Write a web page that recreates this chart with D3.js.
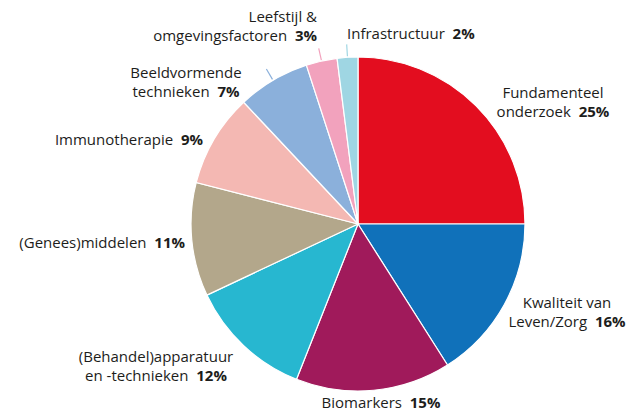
<!DOCTYPE html>
<html>
<head>
<meta charset="utf-8">
<script src="https://cdn.jsdelivr.net/npm/d3@7"></script>
<style>
  body { margin: 0; background: #fff; }
  svg text { font-family: "Open Sans", "Noto Sans", sans-serif; font-size: 15px; fill: #1d1d1b; }
  .pct { font-weight: 700; }
</style>
</head>
<body>
<svg id="chart" width="631" height="412"></svg>
<script>
// data
const categories = [
    ["Fundamenteel", "onderzoek"],
    ["Kwaliteit van", "Leven/Zorg"],
    ["Biomarkers"],
    ["(Behandel)apparatuur", "en -technieken"],
    ["(Genees)middelen"],
    ["Immunotherapie"],
    ["Beeldvormende", "technieken"],
    ["Leefstijl &", "omgevingsfactoren"],
    ["Infrastructuur"]
];
const values = [25, 16, 15, 12, 11, 9, 7, 3, 2];
const colors = ["#e30d1f", "#1071ba", "#a01a5b", "#27b7d0", "#b3a78b", "#f4b8b3", "#8bb0db", "#f2a2bd", "#9fd6e3"];

// label placement (layout only)
const labelPos = [
    { x: 553, y: 98, anchor: "middle" },
    { x: 567, y: 308, anchor: "middle" },
    { x: 381, y: 408, anchor: "middle" },
    { x: 156, y: 362, anchor: "middle" },
    { x: 185, y: 248, anchor: "end" },
    { x: 203, y: 145, anchor: "end" },
    { x: 186, y: 78, anchor: "middle" },
    { x: 317, y: 22, anchor: "end" },
    { x: 347, y: 39, anchor: "start" }
];
const leaderIdx = [6, 7, 8];

const svg = d3.select("#chart");
const cx = 358, cy = 224, radius = 167;

const pie = d3.pie().sort(null).value(d => d);
const arcs = pie(values);
const arc = d3.arc().innerRadius(0).outerRadius(radius);

const g = svg.append("g").attr("transform", `translate(${cx},${cy})`);

g.selectAll("path")
    .data(arcs)
    .enter().append("path")
    .attr("d", arc)
    .attr("fill", (d, i) => colors[i])
    .attr("stroke", "#fff")
    .attr("stroke-width", 1.2);

// leader lines for small slices
g.selectAll("line.leader")
    .data(leaderIdx)
    .enter().append("line")
    .attr("class", "leader")
    .each(function(i) {
        const a = (arcs[i].startAngle + arcs[i].endAngle) / 2;
        const r1 = radius + 1, r2 = radius + 13;
        d3.select(this)
            .attr("x1", Math.sin(a) * r1).attr("y1", -Math.cos(a) * r1)
            .attr("x2", Math.sin(a) * r2).attr("y2", -Math.cos(a) * r2);
    })
    .attr("stroke", i => colors[i])
    .attr("stroke-width", 1.2);

// labels
const labels = svg.selectAll("text.label")
    .data(categories)
    .enter().append("text")
    .attr("class", "label")
    .attr("text-anchor", (d, i) => labelPos[i].anchor)
    .attr("x", (d, i) => labelPos[i].x)
    .attr("y", (d, i) => labelPos[i].y);

labels.each(function(lines, i) {
    const t = d3.select(this);
    lines.forEach((ln, j) => {
        const last = j === lines.length - 1;
        t.append("tspan")
            .attr("x", labelPos[i].x)
            .attr("dy", j === 0 ? 0 : 19)
            .text(last ? ln + "\u00a0 " : ln);
        if (last) t.append("tspan").attr("class", "pct").text(values[i] + "%");
    });
});
</script>
</body>
</html>
